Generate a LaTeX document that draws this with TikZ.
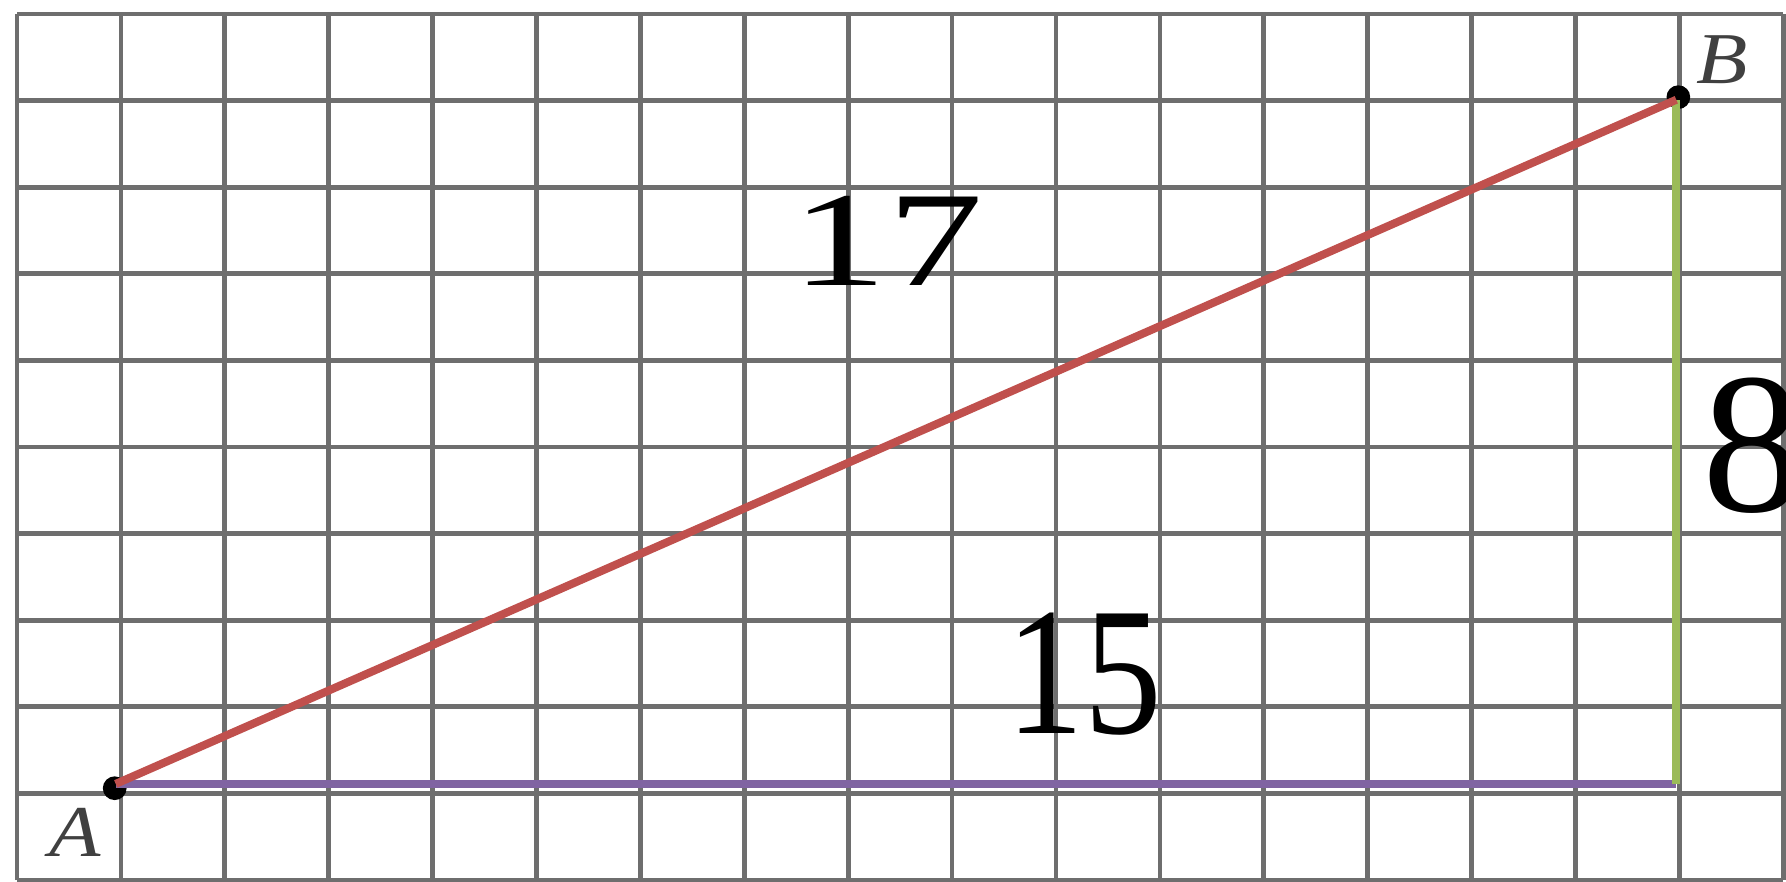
\documentclass[tikz,border=0pt]{standalone}
\usepackage{fontspec}
\setmainfont{Liberation Serif}
\definecolor{gridgrey}{HTML}{6E6E6E}
\definecolor{hypored}{HTML}{C0504D}
\definecolor{legpurple}{HTML}{8064A2}
\definecolor{leggreen}{HTML}{9BBB59}
\tikzset{
  gridline/.style={draw=gridgrey, line width=1.3pt},
  sideline/.style={line width=2.2pt},
  vertexdot/.style={circle, fill=black, inner sep=0pt, minimum size=6.5pt},
  vertexlabel/.style={font=\fontsize{20}{20}\selectfont\itshape, text=black!75, inner sep=0pt, xscale=1.15},
  sidelabel/.style={inner sep=0pt, text=black},
}
\begin{document}
\begin{tikzpicture}[x=1cm, y=0.8335cm]
  \useasboundingbox[fill=white] (-0.164,-0.012) rectangle (17.026,10.162);
  % squared paper
  \foreach \i in {0,...,17} \draw[gridline] (\i,0) -- (\i,10);
  \foreach \j in {0,...,10} \draw[gridline] (0,\j) -- (17,\j);
  % vertices
  \coordinate (A) at (0.95,1.11);
  \coordinate (C) at (15.97,1.11);
  \coordinate (B) at (15.97,9.01);
  \node[vertexdot] (dotA) at (0.94,1.06) {};
  \node[vertexdot] (dotB) at (15.99,9.04) {};
  \node[vertexlabel] (labA) at (0.56,0.55) {A};
  \node[vertexlabel] (labB) at (16.41,9.47) {B};
  % sides
  \draw[sideline, legpurple] (A) -- (C);
  \draw[sideline, leggreen] (C) -- (B);
  \draw[sideline, hypored] (A) -- (B);
  % lengths
  \node[sidelabel, font=\fontsize{37}{37}\selectfont, xscale=1.42] (hyp) at (8.38,7.38) {17};
  \node[sidelabel, font=\fontsize{50}{50}\selectfont, xscale=0.85] (base) at (10.27,2.38) {15};
  \node[sidelabel, font=\fontsize{55}{55}\selectfont, anchor=west] (height) at (16.22,5.02) {8};
\end{tikzpicture}
\end{document}
